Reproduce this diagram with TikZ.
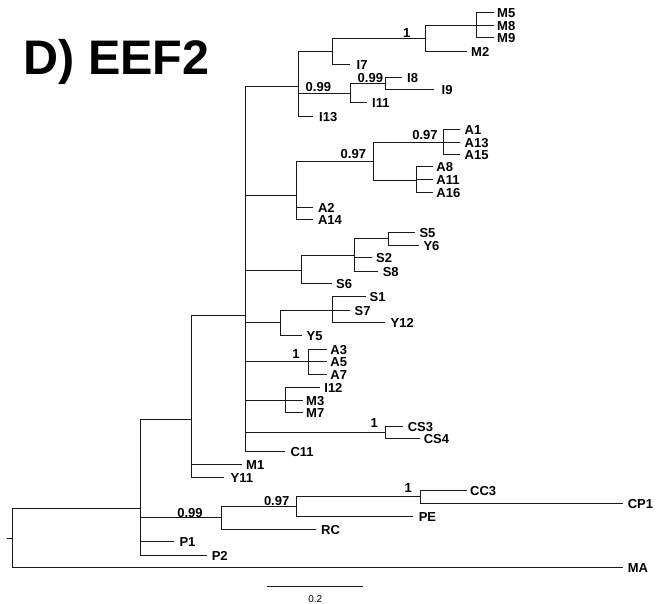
\documentclass[tikz,border=0pt]{standalone}
\usepackage{fontspec}
\setmainfont{Liberation Sans}
\begin{document}
\begin{tikzpicture}[x=1pt,y=-1pt,
  br/.style={draw=black!90,line width=0.95pt},
  lab/.style={font=\fontsize{13}{15}\selectfont\bfseries,anchor=west,inner sep=0pt,yshift=-0.6pt},
  suplab/.style={font=\fontsize{13}{15}\selectfont\bfseries,anchor=base west,inner sep=0pt}]
\useasboundingbox (0,0) rectangle (661,604);

% title
\node[anchor=base west,inner sep=0pt,font=\fontsize{48.5}{52}\selectfont\bfseries] (title) at (23.3,75) {D) EEF2};

% internal nodes
\coordinate (stub) at (6.7,538.3);
\coordinate (R0) at (12.3,538.3);
\coordinate (N1) at (140,508.3);
\coordinate (N2) at (191.7,419);
\coordinate (N3) at (221.7,517.7);
\coordinate (N4) at (296,506.7);
\coordinate (N5) at (420.5,496.7);
\coordinate (N6) at (245.5,315.7);
\coordinate (N7) at (298.3,86.7);
\coordinate (N8) at (332.3,51.7);
\coordinate (N9) at (350,93.3);
\coordinate (N10) at (425.7,38.3);
\coordinate (N11) at (476.7,25);
\coordinate (N12) at (385,83.3);
\coordinate (N13) at (296.7,195.7);
\coordinate (N14) at (373.3,161);
\coordinate (N15) at (443.3,142);
\coordinate (N16) at (416,180.3);
\coordinate (N17) at (301.7,270);
\coordinate (N18) at (354,255.7);
\coordinate (N19) at (388.3,238.3);
\coordinate (N20) at (280.7,322.3);
\coordinate (N21) at (332.7,310);
\coordinate (N22) at (308.3,361.5);
\coordinate (N23) at (285,400);
\coordinate (N24) at (385.7,432.7);

% leaves (line ends)
\coordinate (M5) at (494,12.3);
\coordinate (M8) at (494,25);
\coordinate (M9) at (494,37.7);
\coordinate (M2) at (466.7,51.3);
\coordinate (I7) at (350,64.3);
\coordinate (I8) at (402.3,77.7);
\coordinate (I9) at (434,89.3);
\coordinate (I11) at (367,102.7);
\coordinate (I13) at (313,116);
\coordinate (A1) at (460,129.5);
\coordinate (A13) at (460,142);
\coordinate (A15) at (460,154.5);
\coordinate (A8) at (433.3,166.7);
\coordinate (A11) at (433.3,179.3);
\coordinate (A16) at (433.3,192);
\coordinate (A2) at (313.3,207);
\coordinate (A14) at (313.3,219.3);
\coordinate (S5) at (415,232.3);
\coordinate (Y6) at (419,245);
\coordinate (S2) at (372,257.7);
\coordinate (S8) at (378.3,271);
\coordinate (S6) at (331.7,283.3);
\coordinate (S1) at (366,296.7);
\coordinate (S7) at (350,310);
\coordinate (Y12) at (385,322.3);
\coordinate (Y5) at (301.7,335);
\coordinate (A3) at (327,349);
\coordinate (A5) at (327,361.5);
\coordinate (A7) at (327,374);
\coordinate (I12) at (320,387.3);
\coordinate (M3) at (303.3,400);
\coordinate (M7) at (303.3,412.7);
\coordinate (CS3) at (403.3,426);
\coordinate (CS4) at (420,438.3);
\coordinate (C11) at (285,451.7);
\coordinate (M1) at (241.7,464.3);
\coordinate (Y11) at (224,477);
\coordinate (CC3) at (466.7,490.7);
\coordinate (CP1) at (623.3,503.3);
\coordinate (PE) at (413.3,516);
\coordinate (RC) at (316,529.3);
\coordinate (P1) at (174.3,541.7);
\coordinate (P2) at (206.7,555);
\coordinate (MA) at (623.3,567.7);

% branches
\draw[br] (stub) -- (R0);
\draw[br] (R0) |- (N1);
\draw[br] (R0) |- (MA);
\draw[br] (N1) |- (N2);
\draw[br] (N1) |- (N3);
\draw[br] (N1) |- (P1);
\draw[br] (N1) |- (P2);
\draw[br] (N2) |- (N6);
\draw[br] (N2) |- (M1);
\draw[br] (N2) |- (Y11);
\draw[br] (N6) |- (N7);
\draw[br] (N6) |- (N13);
\draw[br] (N6) |- (N17);
\draw[br] (N6) |- (N20);
\draw[br] (N6) |- (N22);
\draw[br] (N6) |- (N23);
\draw[br] (N6) |- (N24);
\draw[br] (N6) |- (C11);
\draw[br] (N7) |- (N8);
\draw[br] (N7) |- (N9);
\draw[br] (N7) |- (I13);
\draw[br] (N8) |- (N10);
\draw[br] (N8) |- (I7);
\draw[br] (N10) |- (N11);
\draw[br] (N10) |- (M2);
\draw[br] (N11) |- (M5);
\draw[br] (N11) |- (M8);
\draw[br] (N11) |- (M9);
\draw[br] (N9) |- (N12);
\draw[br] (N9) |- (I11);
\draw[br] (N12) |- (I8);
\draw[br] (N12) |- (I9);
\draw[br] (N13) |- (N14);
\draw[br] (N13) |- (A2);
\draw[br] (N13) |- (A14);
\draw[br] (N14) |- (N15);
\draw[br] (N14) |- (N16);
\draw[br] (N15) |- (A1);
\draw[br] (N15) |- (A13);
\draw[br] (N15) |- (A15);
\draw[br] (N16) |- (A8);
\draw[br] (N16) |- (A11);
\draw[br] (N16) |- (A16);
\draw[br] (N17) |- (N18);
\draw[br] (N17) |- (S6);
\draw[br] (N18) |- (N19);
\draw[br] (N18) |- (S2);
\draw[br] (N18) |- (S8);
\draw[br] (N19) |- (S5);
\draw[br] (N19) |- (Y6);
\draw[br] (N20) |- (N21);
\draw[br] (N20) |- (Y5);
\draw[br] (N21) |- (S1);
\draw[br] (N21) |- (S7);
\draw[br] (N21) |- (Y12);
\draw[br] (N22) |- (A3);
\draw[br] (N22) |- (A5);
\draw[br] (N22) |- (A7);
\draw[br] (N23) |- (I12);
\draw[br] (N23) |- (M3);
\draw[br] (N23) |- (M7);
\draw[br] (N24) |- (CS3);
\draw[br] (N24) |- (CS4);
\draw[br] (N3) |- (N4);
\draw[br] (N3) |- (RC);
\draw[br] (N4) |- (N5);
\draw[br] (N4) |- (PE);
\draw[br] (N5) |- (CC3);
\draw[br] (N5) |- (CP1);

% leaf labels
\node[lab] (tM5) at (497,12.3) {M5};
\node[lab] (tM8) at (497,25) {M8};
\node[lab] (tM9) at (497,37.7) {M9};
\node[lab] (tM2) at (471,51.3) {M2};
\node[lab] (tI7) at (356.5,64.3) {I7};
\node[lab] (tI8) at (407,77.7) {I8};
\node[lab] (tI9) at (441.5,89.3) {I9};
\node[lab] (tI11) at (372,102.7) {I11};
\node[lab] (tI13) at (319,116) {I13};
\node[lab] (tA1) at (464.5,129.5) {A1};
\node[lab] (tA13) at (464.5,142) {A13};
\node[lab] (tA15) at (464.5,154.5) {A15};
\node[lab] (tA8) at (436.2,166.7) {A8};
\node[lab] (tA11) at (436.2,179.3) {A11};
\node[lab] (tA16) at (436.2,192) {A16};
\node[lab] (tA2) at (317.8,207) {A2};
\node[lab] (tA14) at (317.8,219.3) {A14};
\node[lab] (tS5) at (419.3,232.3) {S5};
\node[lab] (tY6) at (423.3,245) {Y6};
\node[lab] (tS2) at (376,257.7) {S2};
\node[lab] (tS8) at (382.6,271) {S8};
\node[lab] (tS6) at (336,283.3) {S6};
\node[lab] (tS1) at (369.5,296.7) {S1};
\node[lab] (tS7) at (354.4,310) {S7};
\node[lab] (tY12) at (390.5,322.3) {Y12};
\node[lab] (tY5) at (306.5,335) {Y5};
\node[lab] (tA3) at (330.2,349) {A3};
\node[lab] (tA5) at (330.2,361.5) {A5};
\node[lab] (tA7) at (330.2,374) {A7};
\node[lab] (tI12) at (324.2,387.3) {I12};
\node[lab] (tM3) at (306,400) {M3};
\node[lab] (tM7) at (306,412.7) {M7};
\node[lab] (tCS3) at (407.6,426) {CS3};
\node[lab] (tCS4) at (423.6,438.3) {CS4};
\node[lab] (tC11) at (290.3,451.7) {C11};
\node[lab] (tM1) at (246,464.3) {M1};
\node[lab] (tY11) at (230.5,477) {Y11};
\node[lab] (tCC3) at (470,490.7) {CC3};
\node[lab] (tCP1) at (627.6,503.3) {CP1};
\node[lab] (tPE) at (418.6,516) {PE};
\node[lab] (tRC) at (321,529.3) {RC};
\node[lab] (tP1) at (179.3,541.7) {P1};
\node[lab] (tP2) at (211.6,555) {P2};
\node[lab] (tMA) at (627.6,567.7) {MA};

% support values
\node[suplab] (s1) at (403,37.3) {1};
\node[suplab] (s2) at (357.5,82.5) {0.99};
\node[suplab] (s3) at (305.5,91.5) {0.99};
\node[suplab] (s4) at (412.2,139.3) {0.97};
\node[suplab] (s5) at (340.5,158.3) {0.97};
\node[suplab] (s6) at (292.2,358.3) {1};
\node[suplab] (s7) at (370.5,427.3) {1};
\node[suplab] (s8) at (404.5,492.3) {1};
\node[suplab] (s9) at (263.8,505) {0.97};
\node[suplab] (s10) at (177.2,517) {0.99};

% scale bar
\coordinate (sb1) at (267.3,586);
\coordinate (sb2) at (363.3,586);
\draw[br] (sb1) -- (sb2);
\node[font=\fontsize{10}{12}\selectfont,anchor=base,inner sep=0pt] (sbl) at (315.3,602.3) {0.2};
\end{tikzpicture}
\end{document}
